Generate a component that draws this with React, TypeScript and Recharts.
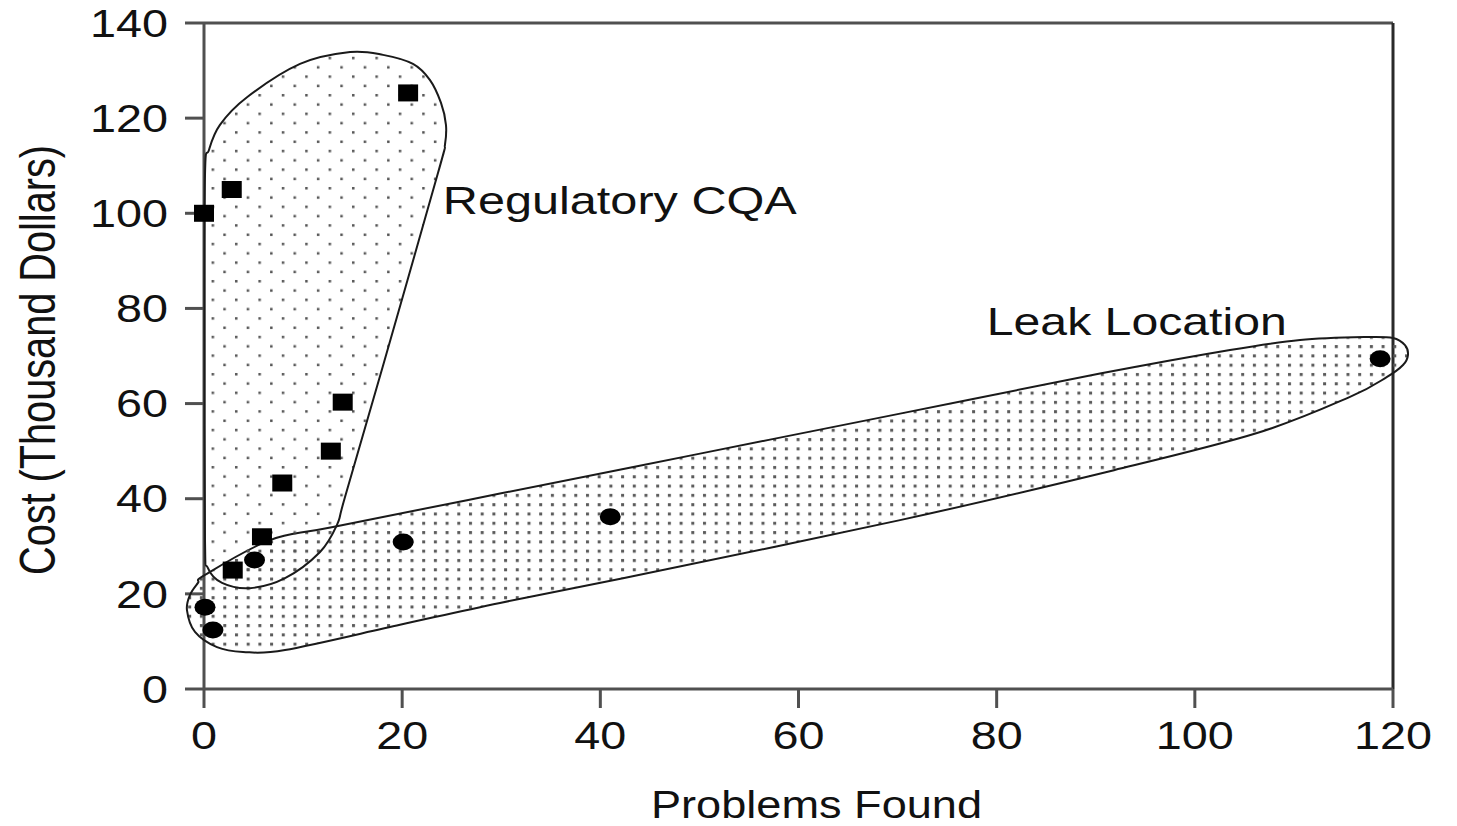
import React from 'react';
import { ScatterChart, Scatter, XAxis, YAxis, ReferenceLine, ReferenceDot, Label } from 'recharts';

// ---- data ----
const regulatoryX = [0, 2.8, 20.6, 14.0, 12.8, 7.9, 5.85, 2.9];
const regulatoryY = [100, 105, 125.3, 60.3, 50.0, 43.3, 32.0, 25.0];

const leakX = [0.1, 0.9, 5.1, 20.1, 41.0, 118.7];
const leakY = [17.2, 12.4, 27.1, 30.9, 36.2, 69.4];

const xTicks = [0, 20, 40, 60, 80, 100, 120];
const yTicks = [0, 20, 40, 60, 80, 100, 120, 140];

// enclosure outlines, in data units (clockwise)
const regulatoryOutlineX = [14.74, 18.07, 21.09, 22.81, 23.92, 24.42, 24.32, 23.62, 18.03, 14.21, 13.42, 11.71, 8.18, 4.64, 1.82, 0.4, 0.1, 0.05, 0.1, 0.5, 1.61, 4.34, 9.69];
const regulatoryOutlineY = [133.9, 133.3, 131.4, 128.0, 123.2, 118.6, 114.4, 108.5, 67.7, 40.2, 34.5, 28.8, 23.3, 21.2, 22.3, 25.4, 31.3, 71.3, 108.1, 113.3, 118.6, 124.4, 131.4];

const leakOutlineX = [0.1, 6.66, 13.02, 29.87, 50.06, 70.25, 90.43, 103.55, 110.62, 117.48, 120.0, 121.21, 121.51, 121.01, 119.4, 115.66, 106.28, 91.84, 70.25, 42.29, 29.87, 19.78, 8.18, 3.94, 1.31, -0.91, -1.72, -1.41, -0.61];
const leakOutlineY = [24.0, 31.3, 34.06, 41.08, 49.48, 57.89, 66.3, 71.26, 73.37, 74.0, 73.8, 72.3, 70.2, 68.1, 65.6, 61.4, 53.8, 46.0, 35.5, 23.3, 18.1, 13.5, 8.2, 7.8, 8.8, 12.0, 16.6, 19.8, 22.3];

const annotationTexts = ['Regulatory CQA', 'Leak Location'];
const annotationX = [24.1, 79.0];
const annotationY = [99.9, 74.4];

const xTitle = 'Problems Found';
const yTitle = 'Cost (Thousand Dollars)';

// ---- build tables ----
const zip = (xs: number[], ys: number[]) => xs.map((x, i) => ({ x, y: ys[i] }));
const regulatoryData = zip(regulatoryX, regulatoryY);
const leakData = zip(leakX, leakY);
const regulatoryOutline = zip(regulatoryOutlineX, regulatoryOutlineY);
const leakOutline = zip(leakOutlineX, leakOutlineY);

// ---- styles ----
const FONT = '"Liberation Sans", Arial, Helvetica, sans-serif';
const AXIS = '#505050';
const annotationWidth: Record<string, number> = { 'Regulatory CQA': 354, 'Leak Location': 300 };

function closedPath(pts: { x: number; y: number }[]) {
  const n = pts.length;
  let d = `M${pts[0].x},${pts[0].y}`;
  for (let i = 0; i < n; i++) {
    const p0 = pts[(i - 1 + n) % n];
    const p1 = pts[i];
    const p2 = pts[(i + 1) % n];
    const p3 = pts[(i + 2) % n];
    const c1x = p1.x + (p2.x - p0.x) / 6;
    const c1y = p1.y + (p2.y - p0.y) / 6;
    const c2x = p2.x - (p3.x - p1.x) / 6;
    const c2y = p2.y - (p3.y - p1.y) / 6;
    d += ` C${c1x},${c1y} ${c2x},${c2y} ${p2.x},${p2.y}`;
  }
  return d + ' Z';
}

const makeBlob = (patternId: string) => (props: any) => {
  const pts = props.points || [];
  if (!pts.length) return <g />;
  return (
    <g>
      <defs>
        <pattern id="stipple-reg" patternUnits="userSpaceOnUse" width={23.4} height={18.6}>
          <rect x={1} y={1} width={2.5} height={2.5} fill="#555" />
          <rect x={12.7} y={10.3} width={2.5} height={2.5} fill="#555" />
        </pattern>
        <pattern id="stipple-leak" patternUnits="userSpaceOnUse" width={11.7} height={9.3}>
          <rect x={1} y={1} width={3} height={3} fill="#5a5a5a" />
        </pattern>
      </defs>
      <path d={closedPath(pts)} fill={`url(#${patternId})`} stroke="#1a1a1a" strokeWidth={2} />
    </g>
  );
};

const NoMark = () => <g />;
const SquareMark = (p: any) => <rect x={p.cx - 10} y={p.cy - 8.5} width={20} height={17} fill="#000" />;
const CircleMark = (p: any) => <ellipse cx={p.cx} cy={p.cy} rx={10.5} ry={8.5} fill="#000" />;

const CHAR_W = 26;
const XTick = (props: any) => {
  const { x, y, payload } = props;
  const s = String(payload.value);
  const w = s.length * CHAR_W;
  return (
    <text x={x - w / 2} y={y} dy="0.71em" fontSize={38} fontFamily={FONT} fill="#111" textLength={w} lengthAdjust="spacingAndGlyphs">
      {s}
    </text>
  );
};
const YTick = (props: any) => {
  const { x, y, payload } = props;
  const s = String(payload.value);
  const w = s.length * CHAR_W;
  return (
    <text x={x - w} y={y} dy="0.36em" fontSize={38} fontFamily={FONT} fill="#111" textLength={w} lengthAdjust="spacingAndGlyphs">
      {s}
    </text>
  );
};

const YTitle = (props: any) => {
  const vb = props.viewBox || { x: 0, y: 0, width: 0, height: 0 };
  const cx = vb.x + 37;
  const cy = vb.y + vb.height / 2 + 4;
  const len = 430;
  return (
    <text transform={`translate(${cx},${cy}) rotate(-90) scale(1,1.3)`} x={-len / 2} y={0} dy="0.36em" fontSize={38} fontFamily={FONT} fill="#111" textLength={len} lengthAdjust="spacingAndGlyphs">
      {yTitle}
    </text>
  );
};
const XTitle = (props: any) => {
  const vb = props.viewBox || { x: 0, y: 0, width: 0, height: 0 };
  const len = 331;
  const cx = vb.x + vb.width / 2 + 18;
  return (
    <text x={cx - len / 2} y={vb.y + 129} fontSize={38} fontFamily={FONT} fill="#111" textLength={len} lengthAdjust="spacingAndGlyphs">
      {xTitle}
    </text>
  );
};

const annotationContent = (text: string) => (props: any) => {
  const vb = props.viewBox || { x: 0, y: 0 };
  return (
    <text x={vb.x} y={vb.y} fontSize={39} fontFamily={FONT} fill="#111" textLength={annotationWidth[text]} lengthAdjust="spacingAndGlyphs">
      {text}
    </text>
  );
};

export default function App() {
  return (
    <div className="chart-wrap" style={{ position: 'absolute', left: 0, top: 0, width: 1457, height: 826, background: '#fff' }}>
      <style>{`.chart-wrap [clip-path]{clip-path:none !important}`}</style>
      <ScatterChart width={1457} height={826} margin={{ top: 23, right: 64, left: 0, bottom: 0 }}>
        <XAxis
          type="number"
          dataKey="x"
          domain={[0, 120]}
          allowDataOverflow
          ticks={xTicks}
          interval={0}
          height={137}
          tickSize={19}
          tickMargin={14}
          tick={<XTick />}
          axisLine={{ stroke: AXIS, strokeWidth: 3 }}
          tickLine={{ stroke: AXIS, strokeWidth: 3 }}
        >
          <Label content={<XTitle />} />
        </XAxis>
        <YAxis
          type="number"
          dataKey="y"
          domain={[0, 140]}
          allowDataOverflow
          ticks={yTicks}
          interval={0}
          width={204}
          tickSize={19}
          tickMargin={17}
          tick={<YTick />}
          axisLine={{ stroke: AXIS, strokeWidth: 3 }}
          tickLine={{ stroke: AXIS, strokeWidth: 3 }}
        >
          <Label content={<YTitle />} />
        </YAxis>
        <ReferenceLine y={140} stroke={AXIS} strokeWidth={3} />
        <ReferenceLine x={120} stroke="#2a2a2a" strokeWidth={3} />
        <Scatter data={leakOutline} isAnimationActive={false} shape={<NoMark />} line={makeBlob('stipple-leak')} lineType="joint" />
        <Scatter data={regulatoryOutline} isAnimationActive={false} shape={<NoMark />} line={makeBlob('stipple-reg')} lineType="joint" />
        <Scatter name="Regulatory CQA" data={regulatoryData} isAnimationActive={false} shape={<SquareMark />} />
        <Scatter name="Leak Location" data={leakData} isAnimationActive={false} shape={<CircleMark />} />
        {annotationTexts.map((t, i) => (
          <ReferenceDot key={t} x={annotationX[i]} y={annotationY[i]} r={0} fill="none" stroke="none" label={{ content: annotationContent(t) }} />
        ))}
      </ScatterChart>
    </div>
  );
}
